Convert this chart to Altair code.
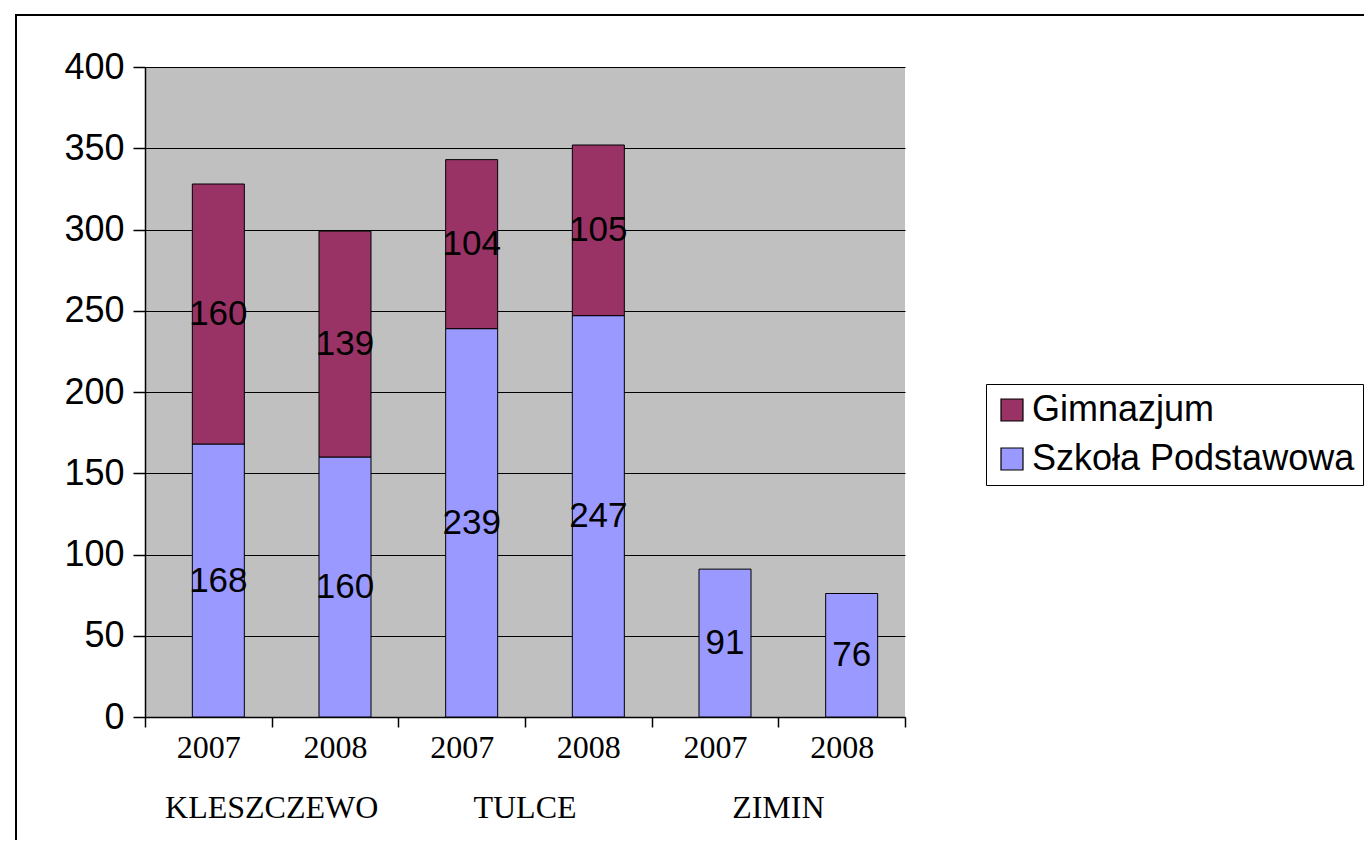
import altair as alt
import pandas as pd

# ---- data ----
villages = ["KLESZCZEWO", "KLESZCZEWO", "TULCE", "TULCE", "ZIMIN", "ZIMIN"]
years = ["2007", "2008", "2007", "2008", "2007", "2008"]
szkola = [168, 160, 239, 247, 91, 76]
gimnazjum = [160, 139, 104, 105, 0, 0]
series = ["Gimnazjum", "Szkoła Podstawowa"]
colors = ["#993366", "#9999FF"]
groups = ["KLESZCZEWO", "TULCE", "ZIMIN"]

keys = [f"{v}|{y}" for v, y in zip(villages, years)]
rows = []
for k, s, g in zip(keys, szkola, gimnazjum):
    rows.append({"key": k, "series": "Szkoła Podstawowa", "ord": 0, "value": s})
    if g > 0:
        rows.append({"key": k, "series": "Gimnazjum", "ord": 1, "value": g})
df = pd.DataFrame(rows)
gdf = pd.DataFrame({"group": groups, "first": [f"{g}|2007" for g in groups]})

W, H = 760, 650
xscale = alt.Scale(domain=keys, paddingInner=0, paddingOuter=0)
cscale = alt.Scale(domain=series, range=colors)

base = alt.Chart(df)

bars = base.mark_bar(size=52, stroke="black", strokeWidth=1, xOffset=10).encode(
    x=alt.X("key:N", scale=xscale, title=None,
            axis=alt.Axis(labelExpr="split(datum.value, '|')[1]", labelAngle=0,
                          tickBand="extent", labelFont="Liberation Serif",
                          labelFontSize=32, labelColor="black", labelPadding=5,
                          tickSize=10, tickColor="black", domainColor="black",
                          domainWidth=1.5, tickWidth=1.5)),
    y=alt.Y("value:Q", stack="zero", scale=alt.Scale(domain=[0, 400]), title=None,
            axis=alt.Axis(values=list(range(0, 401, 50)), labelFont="Liberation Sans",
                          labelFontSize=36, labelColor="black", labelPadding=9,
                          tickSize=12, tickColor="black", tickWidth=1.5,
                          domainColor="black", domainWidth=1.5,
                          gridColor="black", gridWidth=1)),
    color=alt.Color("series:N", scale=cscale, title=None,
                    legend=alt.Legend(orient="none", legendX=841, legendY=317,
                                      symbolType="square", symbolSize=484,
                                      symbolStrokeColor="black", symbolStrokeWidth=1.2,
                                      labelFont="Liberation Sans", labelFontSize=36,
                                      labelColor="black", rowPadding=13,
                                      labelOffset=2,
                                      strokeColor="black", fillColor="white",
                                      padding=8, labelLimit=800)),
    order=alt.Order("ord:Q", sort="ascending"),
)

labels = base.transform_window(
    cum="sum(value)", groupby=["key"], sort=[alt.SortField("ord")]
).transform_calculate(
    mid="datum.cum - datum.value / 2"
).mark_text(font="Liberation Sans", fontSize=35, color="black", dx=10).encode(
    x=alt.X("key:N", scale=xscale),
    y=alt.Y("mid:Q"),
    text=alt.Text("value:Q"),
)

group_labels = alt.Chart(gdf).mark_text(
    font="Liberation Serif", fontSize=32, color="black", dx=W / 12, baseline="middle"
).encode(
    x=alt.X("first:N", scale=xscale),
    y=alt.value(741),
    text="group:N",
)

frame = alt.Chart(pd.DataFrame({"a": [0]})).mark_rect(
    fillOpacity=0, stroke="black", strokeWidth=2
).encode(
    x=alt.value(-129), x2=alt.value(1250), y=alt.value(-52), y2=alt.value(790)
)

chart = alt.layer(bars, labels, group_labels, frame).properties(
    width=W, height=H,
    autosize=alt.AutoSizeParams(type="none"),
    padding={"left": 137, "top": 59, "right": 459, "bottom": 123},
    background="white",
).configure_view(fill="#C0C0C0", strokeWidth=0)

chart.save("out.html", embed_options={"renderer": "svg", "actions": False})
